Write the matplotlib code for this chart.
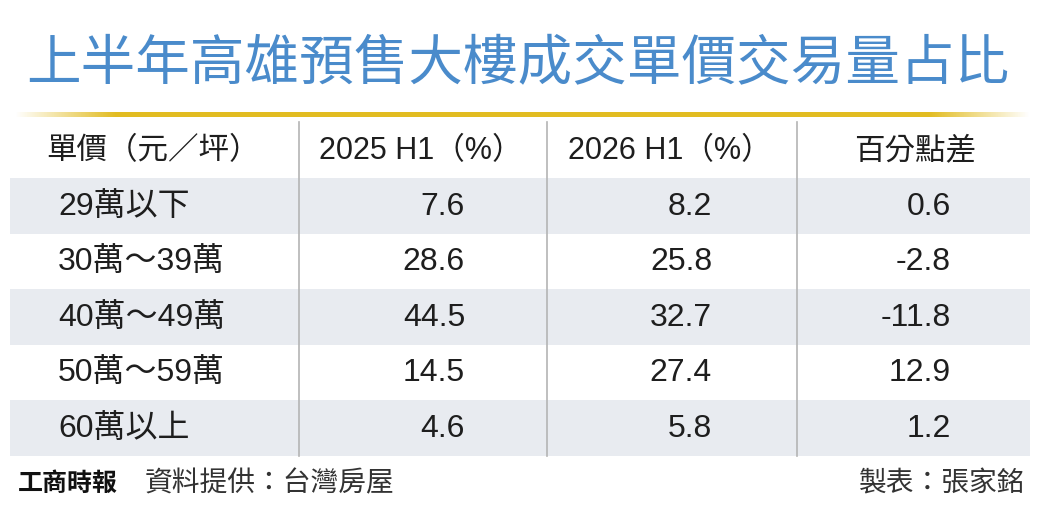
import matplotlib.pyplot as plt
import numpy as np

title = "上半年高雄預售大樓成交單價交易量占比"
headers = ["單價（元／坪）", "2025 H1（%）", "2026 H1（%）", "百分點差"]
price_bands = ["29萬以下", "30萬～39萬", "40萬～49萬", "50萬～59萬", "60萬以上"]
share_2025 = [7.6, 28.6, 44.5, 14.5, 4.6]
share_2026 = [8.2, 25.8, 32.7, 27.4, 5.8]
diff_pts = [0.6, -2.8, -11.8, 12.9, 1.2]
source_text = "資料提供：台灣房屋"
maker_text = "製表：張家銘"
logo_text = "工商時報"

W, H = 1043, 515
fig = plt.figure(figsize=(W / 100, H / 100), dpi=100)
ax = fig.add_axes([0, 0, 1, 1])
ax.set_xlim(0, W)
ax.set_ylim(H, 0)
ax.axis('off')

cjk = ['Liberation Sans', 'Noto Sans CJK TC', 'DejaVu Sans']
txt_color = '#1e1e1e'
fs = 23

# title
ax.text(W / 2 - 4, 63, title, ha='center', va='center', fontsize=39.3,
        color='#4a8bcb', family=['Noto Sans CJK TC'])

# gold rule with faded ends
n = 600
alpha = np.ones(n)
fade = 60
alpha[:fade] = np.linspace(0, 1, fade)
alpha[-fade:] = np.linspace(1, 0, fade)
grad = np.zeros((1, n, 4))
grad[..., 0] = 0.89
grad[..., 1] = 0.74
grad[..., 2] = 0.13
grad[..., 3] = alpha
ax.imshow(grad, extent=[15, 1030, 117, 112], aspect='auto', zorder=2)

# table geometry
head_top, head_h, row_h = 122, 56, 55.5
left, right = 10, 1030
col_lines = [299, 547, 797]

for i in range(len(price_bands)):
    y0 = head_top + head_h + i * row_h
    if i % 2 == 0:
        ax.add_patch(plt.Rectangle((left, y0), right - left, row_h,
                                   color='#e8ebf0', lw=0, zorder=1))

bottom = head_top + head_h + len(price_bands) * row_h
for x in col_lines:
    ax.plot([x, x], [head_top, bottom], color='#b4b4b4', lw=1.2, zorder=3)

# header row
hy = head_top + head_h / 2 + 1
ax.text(46, hy, headers[0], ha='left', va='center', fontsize=22,
        color=txt_color, family=cjk)
for cx, h in zip([421, 670, 915], headers[1:]):
    ax.text(cx, hy, h, ha='center', va='center', fontsize=22,
            color=txt_color, family=cjk)

# data rows
for i, band in enumerate(price_bands):
    y = head_top + head_h + (i + 0.5) * row_h + 1
    ax.text(58, y, band, ha='left', va='center', fontsize=fs,
            color=txt_color, family=cjk)
    ax.text(465, y, f"{share_2025[i]:.1f}", ha='right', va='center',
            fontsize=fs, color=txt_color, family=cjk)
    ax.text(712, y, f"{share_2026[i]:.1f}", ha='right', va='center',
            fontsize=fs, color=txt_color, family=cjk)
    ax.text(951, y, f"{diff_pts[i]:.1f}", ha='right', va='center',
            fontsize=fs, color=txt_color, family=cjk)

# footer
fy = 484
ax.text(18, fy, logo_text, ha='left', va='center', fontsize=18,
        weight='heavy', color='#111111', family=['Noto Sans CJK TC'])
ax.text(145, fy, source_text, ha='left', va='center', fontsize=20,
        color='#333333', family=cjk)
ax.text(1025, fy, maker_text, ha='right', va='center', fontsize=20,
        color='#333333', family=cjk)

fig.savefig("out.png", dpi=100, facecolor='white')
